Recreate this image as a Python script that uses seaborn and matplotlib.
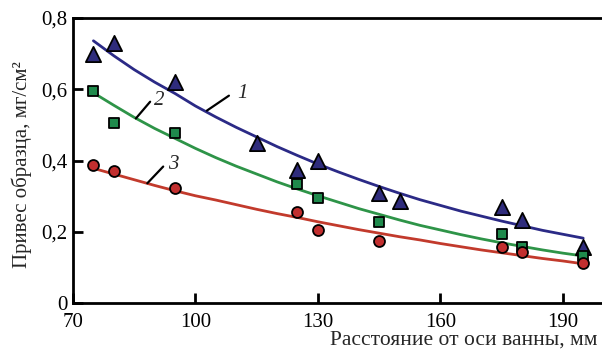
import numpy as np
import pandas as pd
import matplotlib
matplotlib.use("Agg")
import matplotlib.pyplot as plt
import seaborn as sns

# measured points (distance from bath axis, mm -> weight gain, mg/cm2)
x_tri = [75, 80, 95, 115, 125, 130, 145, 150, 175, 180, 195]
y_tri = [0.70, 0.73, 0.62, 0.45, 0.373, 0.40, 0.308, 0.287, 0.27, 0.233, 0.158]

x_sq = [75, 80, 95, 125, 130, 145, 175, 180, 195]
y_sq = [0.596, 0.504, 0.476, 0.333, 0.296, 0.228, 0.194, 0.158, 0.132]

x_circ = [75, 80, 95, 125, 130, 145, 175, 180, 195]
y_circ = [0.387, 0.371, 0.324, 0.256, 0.205, 0.175, 0.156, 0.144, 0.113]

# trend curves every 5 mm
x_curve = [75, 80, 85, 90, 95, 100, 105, 110, 115, 120, 125, 130, 135,
           140, 145, 150, 155, 160, 165, 170, 175, 180, 185, 190, 195]
curve1 = [0.736, 0.694, 0.655, 0.620, 0.588, 0.553, 0.522, 0.493, 0.466,
          0.439, 0.414, 0.390, 0.368, 0.347, 0.327, 0.308, 0.290, 0.274,
          0.258, 0.244, 0.230, 0.217, 0.204, 0.193, 0.182]
curve2 = [0.590, 0.555, 0.521, 0.490, 0.462, 0.434, 0.408, 0.384, 0.362,
          0.340, 0.320, 0.301, 0.283, 0.265, 0.249, 0.233, 0.218, 0.205,
          0.192, 0.180, 0.169, 0.159, 0.149, 0.140, 0.132]
curve3 = [0.378, 0.362, 0.346, 0.330, 0.315, 0.301, 0.289, 0.276, 0.263,
          0.251, 0.240, 0.228, 0.217, 0.206, 0.196, 0.186, 0.177, 0.167,
          0.158, 0.149, 0.141, 0.133, 0.125, 0.118, 0.110]

x_ticks = [70, 100, 130, 160, 190]
y_ticks = [0, 0.2, 0.4, 0.6, 0.8]
y_ticklabels = ["0", "0,2", "0,4", "0,6", "0,8"]

blue, green, red = "#2b2a86", "#2e9448", "#c23a2c"
blue_m, green_m, red_m = "#2f2c7c", "#1f8a4c", "#c22f2f"

sns.set_style("ticks")
plt.rcParams["font.family"] = ["Liberation Serif", "DejaVu Serif"]

fig = plt.figure(figsize=(6.02, 3.57), dpi=100)
ax = fig.add_axes([73 / 602, 54 / 357, 529 / 602, 285 / 357])

n = len(x_curve)
curves = pd.DataFrame({"x": x_curve * 3,
                       "y": curve1 + curve2 + curve3,
                       "s": ["1"] * n + ["2"] * n + ["3"] * n})
sns.lineplot(data=curves, x="x", y="y", hue="s", palette=[blue, green, red],
             linewidth=2.0, legend=False, ax=ax, zorder=2)

sns.scatterplot(x=x_tri, y=y_tri, marker="^", s=120, color=blue_m,
                edgecolor="black", linewidth=1.3, ax=ax, zorder=3)
sns.scatterplot(x=x_sq, y=y_sq, marker="s", s=62, color=green_m,
                edgecolor="black", linewidth=1.3, ax=ax, zorder=3)
sns.scatterplot(x=x_circ, y=y_circ, marker="o", s=62, color=red_m,
                edgecolor="black", linewidth=1.3, ax=ax, zorder=3)

# curve labels with leader strokes
for (x0, y0, x1, y1, xt, yt, t) in [(102.8, 0.540, 108.2, 0.582, 110.3, 0.588, "1"),
                                     (85.4, 0.518, 88.9, 0.565, 89.8, 0.568, "2"),
                                     (88.2, 0.336, 92.1, 0.383, 93.4, 0.388, "3")]:
    ax.plot([x0, x1], [y0, y1], color="black", lw=1.6, zorder=4)
    ax.text(xt, yt, t, fontsize=15, style="italic", ha="left", va="center")

ax.set_xlim(70, 199.6)
ax.set_ylim(0, 0.8)
ax.set_xticks(x_ticks)
ax.set_xticklabels([str(v) for v in x_ticks])
ax.set_yticks(y_ticks)
ax.set_yticklabels(y_ticklabels)
ax.tick_params(direction="in", length=7, width=2, labelsize=15, colors="black")
ax.tick_params(axis="x", pad=7)
ax.tick_params(axis="y", pad=4)
ax.set_xlabel("")
ax.set_ylabel("")

for side in ["left", "bottom", "top"]:
    ax.spines[side].set_linewidth(2)
    ax.spines[side].set_color("black")
ax.spines["right"].set_visible(False)

fig.text(0.992, 0.047, "Расстояние от оси ванны, мм", fontsize=15.5,
         ha="right", va="center")
fig.text(0.036, 0.54, "Привес образца, мг/см²", fontsize=15,
         rotation=90, ha="center", va="center")

fig.savefig("out.png", dpi=100)
